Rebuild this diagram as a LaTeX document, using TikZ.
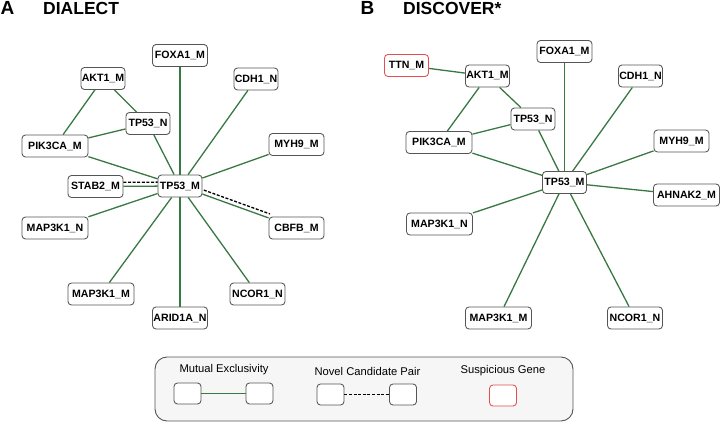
\documentclass[tikz,border=0pt]{standalone}
\usepackage{fontspec}
\setmainfont{Liberation Sans}
\usetikzlibrary{calc}
\definecolor{edgegreen}{RGB}{56,120,66}
\definecolor{boxgray}{RGB}{85,85,85}
\definecolor{susred}{RGB}{228,78,78}
\definecolor{legfill}{RGB}{246,246,246}
\begin{document}
\begin{tikzpicture}[x=1pt,y=-1pt,
  gene/.style={draw=boxgray, fill=white, rounded corners=3.5pt, line width=0.85pt,
    minimum height=22pt, inner sep=0.5pt, font=\fontsize{10.6}{12}\selectfont\bfseries},
  w44/.style={minimum width=44pt}, w55/.style={minimum width=55pt}, w66/.style={minimum width=66pt},
  susp/.style={draw=susred},
  me/.style={draw=edgegreen, line width=1.3pt},
  novel/.style={draw=black, dash pattern=on 3pt off 1.6pt, line width=1.3pt},
  paneltitle/.style={anchor=base west, inner sep=0pt, font=\fontsize{17.5}{20}\selectfont\bfseries},
  legtext/.style={inner sep=0pt, font=\fontsize{11.2}{13}\selectfont},
  legbox/.style={draw=boxgray, fill=white, rounded corners=3.5pt, line width=0.85pt,
    minimum width=27pt, minimum height=21pt, inner sep=0pt}
]
\useasboundingbox (0,0) rectangle (720,422);

% ---------- Panel A ----------
\node[paneltitle, font=\fontsize{19}{22}\selectfont\bfseries] (labA) at (0.5,15) {A};
\node[paneltitle] (titA) at (43,15) {DIALECT};

\node[gene,w55] (aFOXA) at (180,55.5) {FOXA1\_M};
\node[gene,w44] (aAKT) at (103,78.5) {AKT1\_M};
\node[gene,w44] (aCDH) at (256,79) {CDH1\_N};
\node[gene,w44] (aTPN) at (148,123.5) {TP53\_N};
\node[gene,w66] (aPIK) at (55,146) {PIK3CA\_M};
\node[gene,w55] (aMYH) at (296.5,144.5) {MYH9\_M};
\node[gene,w55] (aSTAB) at (95.5,186.5) {STAB2\_M};
\node[gene,w44] (aTPM) at (180,186) {TP53\_M};
\node[gene,w66] (aMAPN) at (55,228) {MAP3K1\_N};
\node[gene,w55] (aCBFB) at (296.5,228) {CBFB\_M};
\node[gene,w66] (aMAPM) at (101,294) {MAP3K1\_M};
\node[gene,w55] (aNCOR) at (257.5,294) {NCOR1\_N};
\node[gene,w55] (aARID) at (180,318) {ARID1A\_N};

\draw[me] (aAKT) -- (aPIK);
\draw[me] (aAKT) -- (aTPN);
\draw[me] (aTPN) -- (aPIK);
\draw[me] (aTPN) -- (aTPM);
\draw[me] (aPIK) -- (aTPM);
\draw[me] (aFOXA) -- (aTPM);
\draw[me] (aCDH) -- (aTPM);
\draw[me] (aMYH) -- (aTPM);
\draw[me] (aSTAB) -- (aTPM);
\draw[me] (aCBFB) -- (aTPM);
\draw[me] (aMAPN) -- (aTPM);
\draw[me] (aMAPM) -- (aTPM);
\draw[me] (aARID) -- (aTPM);
\draw[me] (aNCOR) -- (aTPM);
\draw[novel, transform canvas={yshift=4pt}] (aSTAB) -- (aTPM);
\draw[novel, transform canvas={shift={(1.4pt,4pt)}}] (aTPM) -- (aCBFB);

% ---------- Panel B ----------
\node[paneltitle, font=\fontsize{19}{22}\selectfont\bfseries] (labB) at (360.5,15) {B};
\node[paneltitle] (titB) at (403,15) {DISCOVER*};

\node[gene,w44,susp] (bTTN) at (406.5,65.5) {TTN\_M};
\node[gene,w55] (bFOXA) at (564.5,51.5) {FOXA1\_M};
\node[gene,w44] (bAKT) at (487.5,76) {AKT1\_M};
\node[gene,w44] (bCDH) at (640.5,76) {CDH1\_N};
\node[gene,w44] (bTPN) at (533,119) {TP53\_N};
\node[gene,w66] (bPIK) at (439,142.5) {PIK3CA\_M};
\node[gene,w55] (bMYH) at (681.5,141) {MYH9\_M};
\node[gene,w44] (bTPM) at (564.5,182.5) {TP53\_M};
\node[gene,w66] (bAHN) at (686.5,195) {AHNAK2\_M};
\node[gene,w66] (bMAPN) at (439.5,224) {MAP3K1\_N};
\node[gene,w66] (bMAPM) at (498.5,318) {MAP3K1\_M};
\node[gene,w55] (bNCOR) at (635,318) {NCOR1\_N};

\draw[me] (bTTN) -- (bAKT);
\draw[me] (bAKT) -- (bPIK);
\draw[me] (bAKT) -- (bTPN);
\draw[me] (bTPN) -- (bPIK);
\draw[me] (bTPN) -- (bTPM);
\draw[me] (bPIK) -- (bTPM);
\draw[me] (bFOXA) -- (bTPM);
\draw[me] (bCDH) -- (bTPM);
\draw[me] (bMYH) -- (bTPM);
\draw[me] (bAHN) -- (bTPM);
\draw[me] (bMAPN) -- (bTPM);
\draw[me] (bMAPM) -- (bTPM);
\draw[me] (bNCOR) -- (bTPM);

% ---------- Legend ----------
\draw[draw=boxgray, fill=legfill, line width=0.9pt, rounded corners=12pt] (155,357) rectangle (573,421);
\node[legtext] (lgME) at (224,370) {Mutual Exclusivity};
\node[legbox] (lgMEa) at (187.5,393.5) {};
\node[legbox] (lgMEb) at (259.5,393.5) {};
\draw[me] (lgMEa) -- (lgMEb);
\node[legtext] (lgNC) at (367.5,371) {Novel Candidate Pair};
\node[legbox] (lgNCa) at (330.5,394.5) {};
\node[legbox] (lgNCb) at (403,394.5) {};
\draw[novel] (lgNCa) -- (lgNCb);
\node[legtext] (lgSG) at (503,371) {Suspicious Gene};
\node[legbox,draw=susred] (lgSGa) at (503,395.5) {};
\end{tikzpicture}
\end{document}
